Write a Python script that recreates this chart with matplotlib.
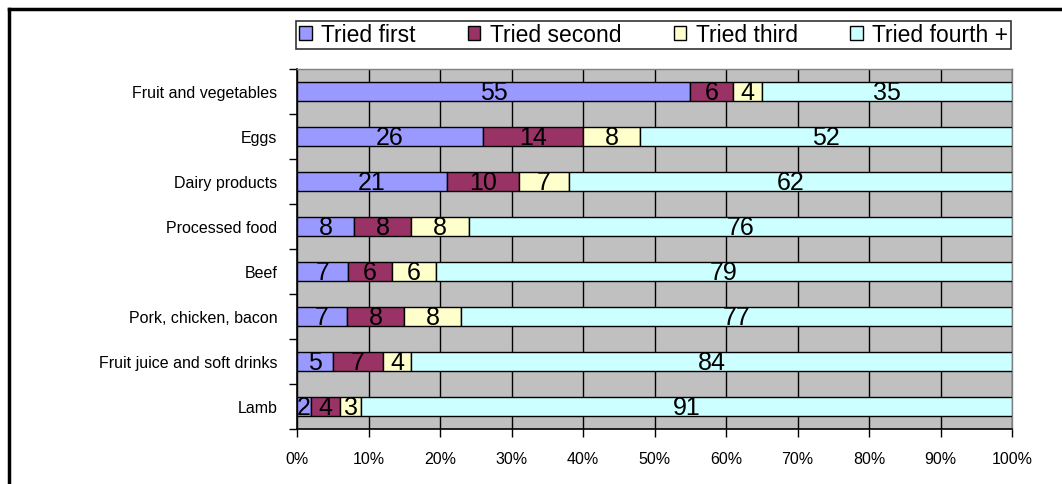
import matplotlib
matplotlib.use("Agg")
import matplotlib.pyplot as plt
from matplotlib.lines import Line2D
from matplotlib.patches import Patch
import numpy as np

categories = ["Fruit and vegetables", "Eggs", "Dairy products", "Processed food",
              "Beef", "Pork, chicken, bacon", "Fruit juice and soft drinks", "Lamb"]
tried_first = [55, 26, 21, 8, 7, 7, 5, 2]
tried_second = [6, 14, 10, 8, 6, 8, 7, 4]
tried_third = [4, 8, 7, 8, 6, 8, 4, 3]
tried_fourth = [35, 52, 62, 76, 79, 77, 84, 91]
series_names = ["Tried first", "Tried second", "Tried third", "Tried fourth +"]
colors = ["#9999FF", "#993366", "#FFFFCC", "#CCFFFF"]
xticks = [0, 10, 20, 30, 40, 50, 60, 70, 80, 90, 100]

plt.rcParams['font.family'] = ['Liberation Sans', 'DejaVu Sans']

fig = plt.figure(figsize=(10.62, 4.85), dpi=100)
ax = fig.add_axes([297/1062, 1-430/485, (1012-297)/1062, (430-70)/485])
ax.set_facecolor("#C0C0C0")

data = np.array([tried_first, tried_second, tried_third, tried_fourth], dtype=float)
totals = data.sum(axis=0)
pct = data / totals * 100
n = len(categories)
ypos = np.arange(n)
left = np.zeros(n)
for i in range(4):
    ax.barh(ypos, pct[i], left=left, height=0.42, color=colors[i],
            edgecolor="black", linewidth=1.0, zorder=3)
    for j in range(n):
        ax.text(left[j] + pct[i][j] / 2, ypos[j] + 0.02, f"{int(data[i][j])}",
                ha="center", va="center", fontsize=18, color="black", zorder=4)
    left += pct[i]

ax.set_xlim(0, 100)
ax.set_ylim(n - 0.5, -0.5)
ax.set_xticks(xticks)
ax.set_xticklabels([f"{t}%" for t in xticks], fontsize=11.5)
ax.xaxis.grid(True, color="black", linewidth=1.0, zorder=1)
ax.set_axisbelow(True)
ax.set_yticks(ypos)
ax.set_yticklabels(categories, fontsize=11.5)
ax.tick_params(axis="y", length=0, pad=14)
ax.set_yticks(np.arange(n + 1) - 0.5, minor=True)
ax.tick_params(axis="y", which="minor", length=6, width=1, color="black", direction="out")
ax.tick_params(axis="x", length=6, width=1, color="black", direction="out", pad=10)
for s in ["top", "right"]:
    ax.spines[s].set_color("#808080")
    ax.spines[s].set_linewidth(1)
for s in ["left", "bottom"]:
    ax.spines[s].set_color("black")
    ax.spines[s].set_linewidth(1.2)

handles = [Patch(facecolor=c, edgecolor="black", linewidth=1) for c in colors]
leg = fig.legend(handles, series_names, loc="center", ncol=4,
                 bbox_to_anchor=((293+1014)/2/1062, 1-36/485),
                 frameon=True, fontsize=16.5, handlelength=0.55, handleheight=0.55,
                 handletextpad=0.4, columnspacing=2.3, borderpad=0.12,
                 borderaxespad=0, fancybox=False, edgecolor="black")
leg.get_frame().set_linewidth(1.2)

# outer chart frame (left and top edges)
fig.add_artist(Line2D([9/1062, 9/1062], [0, 1-10/485], color="black", linewidth=2.5,
                      transform=fig.transFigure))
fig.add_artist(Line2D([9/1062, 1], [1-10/485, 1-10/485], color="black", linewidth=2.5,
                      transform=fig.transFigure))

fig.savefig("out.png", dpi=100)
